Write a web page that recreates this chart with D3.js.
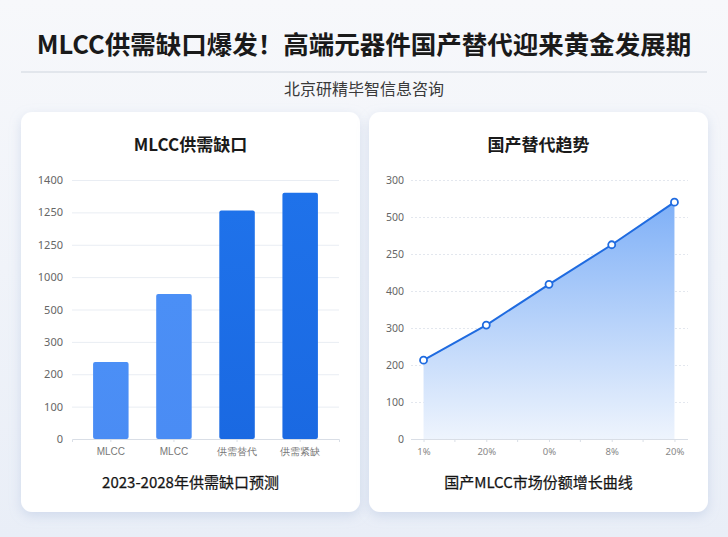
<!DOCTYPE html>
<html>
<head>
<meta charset="utf-8">
<script src="https://cdn.jsdelivr.net/npm/d3@7"></script>
<style>
  html, body { margin: 0; padding: 0; }
  body { width: 728px; height: 537px; overflow: hidden; font-family: "Noto Sans CJK SC", "Noto Sans", sans-serif; }
</style>
</head>
<body>
<svg id="chart" width="728" height="537"></svg>
<script>
// bar chart data (values in axis-grid steps, since tick labels are not linear)
var barCategories = ["MLCC", "MLCC", "供需替代", "供需紧缺"];
var barValues = [2.38, 4.48, 7.06, 7.61];
var barTickLabels = ["0", "100", "200", "300", "500", "1000", "1250", "1250", "1400"];

// line chart data
var lineCategories = ["1%", "20%", "0%", "8%", "20%"];
var lineValues = [2.13, 3.08, 4.18, 5.25, 6.40];
var lineTickLabels = ["0", "100", "200", "300", "400", "250", "500", "300"];

var svg = d3.select("#chart");
var defs = svg.append("defs");

// page background
var bg = defs.append("linearGradient").attr("id", "bg").attr("x1", 0).attr("y1", 0).attr("x2", 0).attr("y2", 1);
bg.append("stop").attr("offset", "0%").attr("stop-color", "#f7f8fb");
bg.append("stop").attr("offset", "100%").attr("stop-color", "#e9eef7");
svg.append("rect").attr("width", 728).attr("height", 537).attr("fill", "url(#bg)");

var shadow = defs.append("filter").attr("id", "shadow").attr("x", "-10%").attr("y", "-10%").attr("width", "120%").attr("height", "130%");
shadow.append("feDropShadow").attr("dx", 0).attr("dy", 4).attr("stdDeviation", 6)
    .attr("flood-color", "#9fb3d6").attr("flood-opacity", 0.35);

var lightBar = defs.append("linearGradient").attr("id", "barLight").attr("x1", 0).attr("y1", 0).attr("x2", 0).attr("y2", 1);
lightBar.append("stop").attr("offset", "0%").attr("stop-color", "#4b8ff6");
lightBar.append("stop").attr("offset", "100%").attr("stop-color", "#4a8cf4");
var darkBar = defs.append("linearGradient").attr("id", "barDark").attr("x1", 0).attr("y1", 0).attr("x2", 0).attr("y2", 1);
darkBar.append("stop").attr("offset", "0%").attr("stop-color", "#1f72ea");
darkBar.append("stop").attr("offset", "100%").attr("stop-color", "#1a69e2");
var barFills = ["url(#barLight)", "url(#barLight)", "url(#barDark)", "url(#barDark)"];

var areaGrad = defs.append("linearGradient").attr("id", "areaGrad").attr("x1", 0).attr("y1", 0).attr("x2", 0).attr("y2", 1);
areaGrad.append("stop").attr("offset", "0%").attr("stop-color", "#7fb0f7");
areaGrad.append("stop").attr("offset", "100%").attr("stop-color", "#eef4fd");

// header
svg.append("text")
    .attr("x", 364).attr("y", 54)
    .attr("text-anchor", "middle")
    .attr("font-size", 25.5).attr("font-weight", 700).attr("fill", "#1a1a1a")
    .text("MLCC供需缺口爆发！高端元器件国产替代迎来黄金发展期");

svg.append("line")
    .attr("x1", 21).attr("x2", 707).attr("y1", 72).attr("y2", 72)
    .attr("stroke", "#cfd5de").attr("stroke-width", 1);

svg.append("text")
    .attr("x", 364).attr("y", 95)
    .attr("text-anchor", "middle")
    .attr("font-size", 16).attr("fill", "#3a3a3a")
    .text("北京研精毕智信息咨询");

// cards
var cards = [{x: 21, title: "MLCC供需缺口", caption: "2023-2028年供需缺口预测"},
             {x: 369, title: "国产替代趋势", caption: "国产MLCC市场份额增长曲线"}];
cards.forEach(function(c) {
    svg.append("rect")
        .attr("x", c.x).attr("y", 112).attr("width", 339).attr("height", 400)
        .attr("rx", 11).attr("fill", "#ffffff")
        .attr("filter", "url(#shadow)");
    svg.append("text")
        .attr("x", c.x + 169.5).attr("y", 151)
        .attr("text-anchor", "middle")
        .attr("font-size", 17).attr("font-weight", 700).attr("fill", "#1a1a1a")
        .text(c.title);
    svg.append("text")
        .attr("x", c.x + 169.5).attr("y", 488)
        .attr("text-anchor", "middle")
        .attr("font-size", 15).attr("font-weight", 400).attr("fill", "#151515")
        .attr("stroke", "#151515").attr("stroke-width", 0.25)
        .text(c.caption);
});

// ---- bar chart ----
var bx = d3.scaleBand()
    .domain(d3.range(barCategories.length))
    .range([72, 339])
    .paddingInner(0.4375)
    .paddingOuter(0.334);

var by = d3.scaleLinear()
    .domain([0, barTickLabels.length - 1])
    .range([439, 180]);

var gBar = svg.append("g");

gBar.append("g")
    .selectAll("line")
    .data(d3.range(1, barTickLabels.length))
    .enter().append("line")
    .attr("x1", 72).attr("x2", 339)
    .attr("y1", function(d) { return by(d) + 0.5; })
    .attr("y2", function(d) { return by(d) + 0.5; })
    .attr("stroke", "#e9edf3");

var yAxisBar = gBar.append("g")
    .attr("transform", "translate(72,0)")
    .call(d3.axisLeft(by)
        .tickValues(d3.range(barTickLabels.length))
        .tickFormat(function(d) { return barTickLabels[d]; })
        .tickSize(0)
        .tickPadding(9));
yAxisBar.select(".domain").remove();
yAxisBar.selectAll("text")
    .attr("font-family", "Noto Sans, sans-serif")
    .attr("font-size", 11).attr("fill", "#666");

gBar.selectAll("rect.bar")
    .data(barValues)
    .enter().append("rect")
    .attr("class", "bar")
    .attr("x", function(d, i) { return bx(i); })
    .attr("width", bx.bandwidth())
    .attr("y", function(d) { return by(d); })
    .attr("height", function(d) { return by(0) - by(d); })
    .attr("rx", 2)
    .attr("fill", function(d, i) { return barFills[i]; });

var xAxisBar = gBar.append("g")
    .attr("transform", "translate(0,439)")
    .call(d3.axisBottom(bx)
        .tickFormat(function(d) { return barCategories[d]; })
        .tickSize(3)
        .tickPadding(6));
xAxisBar.select(".domain").attr("stroke", "#d9dee6");
xAxisBar.selectAll(".tick line").attr("stroke", "#d9dee6");
xAxisBar.selectAll("text")
    .attr("font-size", 10).attr("fill", "#777");

// ---- line chart ----
var lx = d3.scalePoint()
    .domain(d3.range(lineCategories.length))
    .range([411, 687])
    .padding(0.2);

var ly = d3.scaleLinear()
    .domain([0, lineTickLabels.length - 1])
    .range([439, 180]);

var gLine = svg.append("g");

gLine.append("g")
    .selectAll("line")
    .data(d3.range(1, lineTickLabels.length))
    .enter().append("line")
    .attr("x1", 411).attr("x2", 688)
    .attr("y1", function(d) { return ly(d) + 0.5; })
    .attr("y2", function(d) { return ly(d) + 0.5; })
    .attr("stroke", "#e3e7ee")
    .attr("stroke-dasharray", "2,2");

var yAxisLine = gLine.append("g")
    .attr("transform", "translate(411,0)")
    .call(d3.axisLeft(ly)
        .tickValues(d3.range(lineTickLabels.length))
        .tickFormat(function(d) { return lineTickLabels[d]; })
        .tickSize(0)
        .tickPadding(7));
yAxisLine.select(".domain").remove();
yAxisLine.selectAll("text")
    .attr("font-family", "Noto Sans, sans-serif")
    .attr("font-size", 10.5).attr("fill", "#666");

var area = d3.area()
    .x(function(d, i) { return lx(i); })
    .y0(ly(0))
    .y1(function(d) { return ly(d); });

var line = d3.line()
    .x(function(d, i) { return lx(i); })
    .y(function(d) { return ly(d); });

gLine.append("path")
    .datum(lineValues)
    .attr("fill", "url(#areaGrad)")
    .attr("d", area);

gLine.append("path")
    .datum(lineValues)
    .attr("fill", "none")
    .attr("stroke", "#1f6be0")
    .attr("stroke-width", 2)
    .attr("stroke-linejoin", "round")
    .attr("d", line);

gLine.selectAll("circle")
    .data(lineValues)
    .enter().append("circle")
    .attr("cx", function(d, i) { return lx(i); })
    .attr("cy", function(d) { return ly(d); })
    .attr("r", 3.5)
    .attr("fill", "#ffffff")
    .attr("stroke", "#1f6be0")
    .attr("stroke-width", 1.8);

var xAxisLine = gLine.append("g")
    .attr("transform", "translate(0,439)")
    .call(d3.axisBottom(lx)
        .tickFormat(function(d) { return lineCategories[d]; })
        .tickSize(3)
        .tickPadding(6));
xAxisLine.select(".domain").attr("stroke", "#d9dee6").attr("d", "M411,0.5H688");
xAxisLine.selectAll(".tick line").attr("stroke", "#d9dee6");
xAxisLine.selectAll("text")
    .attr("font-family", "Noto Sans, sans-serif")
    .attr("font-size", 9.5).attr("fill", "#888");

// minor ticks between categories
gLine.append("g")
    .selectAll("line")
    .data(d3.range(lineCategories.length - 1))
    .enter().append("line")
    .attr("x1", function(d) { return (lx(d) + lx(d + 1)) / 2; })
    .attr("x2", function(d) { return (lx(d) + lx(d + 1)) / 2; })
    .attr("y1", 439).attr("y2", 442)
    .attr("stroke", "#d9dee6");
</script>
</body>
</html>
